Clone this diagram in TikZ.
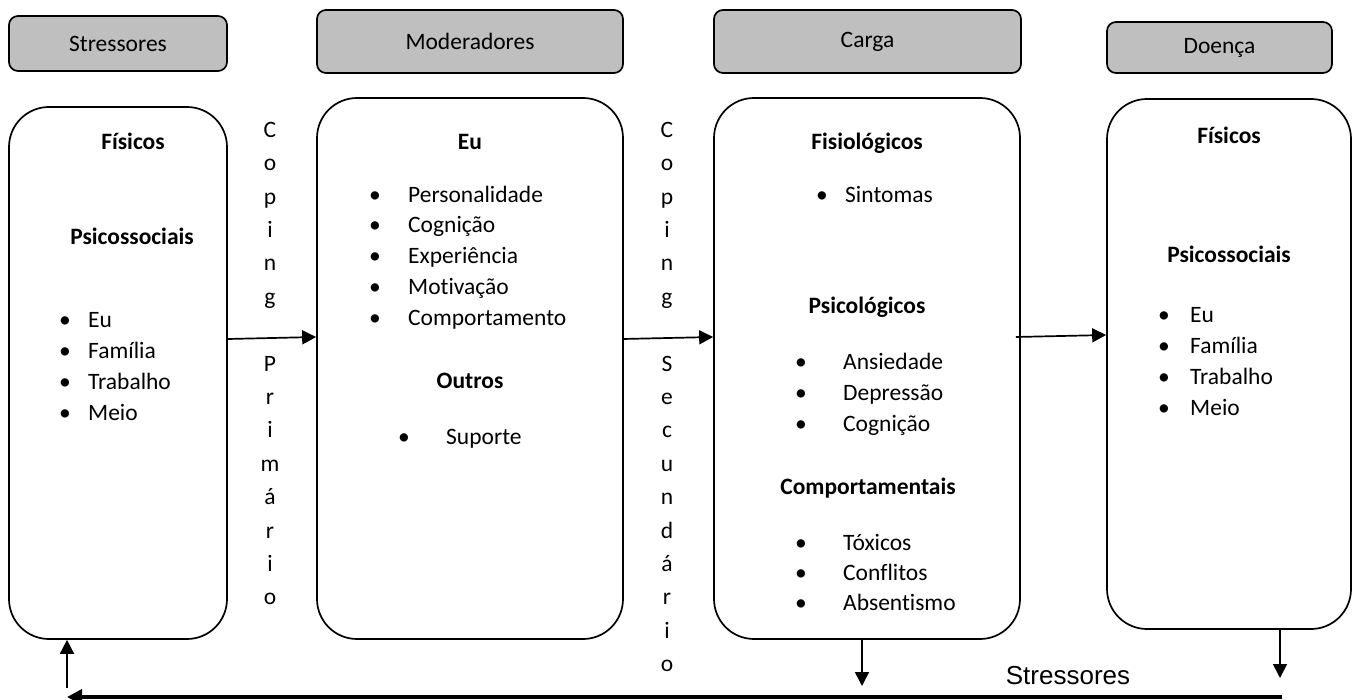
\documentclass[tikz,border=0pt]{standalone}
\usepackage{fontspec}
\setmainfont{Carlito}[Ligatures={NoCommon}]
\newfontfamily\arialfont{Liberation Sans}
\usetikzlibrary{arrows.meta}
\definecolor{hdrgray}{HTML}{BFBFBF}
\tikzset{
  hdr/.style={draw=black, fill=hdrgray, rounded corners=9pt, line width=1.7pt, inner sep=0pt, font=\fontsize{23.5}{28}\selectfont},
  mainbox/.style={draw=black, rounded corners=40pt, line width=1.7pt, inner sep=0pt},
  ttl/.style={font=\fontsize{23.5}{28}\selectfont\bfseries, anchor=mid, inner sep=0pt, yshift=-4pt},
  itm/.style={font=\fontsize{23.5}{28}\selectfont, anchor=mid west, inner sep=0pt, yshift=-4pt},
  bul/.style={font=\fontsize{23.5}{28}\selectfont, anchor=mid, inner sep=0pt, yshift=-4pt},
  ltr/.style={font=\fontsize{23.5}{28}\selectfont, anchor=mid, inner sep=0pt, yshift=-4pt},
  arr/.style={line width=1.7pt, -{Triangle[length=14pt,width=14pt]}},
  bigarr/.style={line width=3.5pt, -{Triangle[length=15pt,width=15pt]}},
}
\begin{document}
\begin{tikzpicture}[x=1pt,y=-1pt]
\useasboundingbox (0,0) rectangle (1354,700);
% headers
\node[hdr, minimum width=218pt, minimum height=55pt] (h1) at (118,43.5) {Stressores};
\node[hdr, minimum width=306pt, minimum height=63pt] (h2) at (470,41.5) {Moderadores};
\node[hdr, minimum width=307pt, minimum height=63pt] (h3) at (867.5,41.5) {Carga};
\node[hdr, minimum width=225pt, minimum height=51pt] (h4) at (1219.5,47.5) {Doença};
% main boxes
\node[mainbox, minimum width=218pt, minimum height=532pt] (b1) at (118,373) {};
\node[mainbox, minimum width=306pt, minimum height=541pt] (b2) at (470,368.5) {};
\node[mainbox, minimum width=306pt, minimum height=541pt] (b3) at (867,368.5) {};
\node[mainbox, minimum width=244pt, minimum height=530pt] (b4) at (1229,364) {};
% box 1
\node[ttl] (b1t1) at (133,143) {Físicos};
\node[ttl] (b1t2) at (132,238) {Psicossociais};
\foreach \t/\y [count=\i] in {Eu/321,Família/352,Trabalho/383,Meio/414}{
  \node[bul] (b1b\i) at (65,\y) {•};
  \node[itm] (b1i\i) at (88,\y) {\t};
}
% box 2
\node[ttl] (b2t1) at (470,143) {Eu};
\foreach \t/\y [count=\i] in {Personalidade/196,Cognição/226.5,Experiência/257,Motivação/288,Comportamento/319}{
  \node[bul] (b2b\i) at (375,\y) {•};
  \node[itm] (b2i\i) at (408,\y) {\t};
}
\node[ttl] (b2t2) at (470,382) {Outros};
\node[bul] (b2b6) at (404,438) {•};
\node[itm] (b2i6) at (446,438) {Suporte};
% box 3
\node[ttl] (b3t1) at (867,143) {Fisiológicos};
\node[bul] (b3b0) at (822,196) {•};
\node[itm] (b3i0) at (845,196) {Sintomas};
\node[ttl] (b3t2) at (867,307) {Psicológicos};
\foreach \t/\y [count=\i] in {Ansiedade/363,Depressão/394,Cognição/425}{
  \node[bul] (b3b\i) at (801,\y) {•};
  \node[itm] (b3i\i) at (843,\y) {\t};
}
\node[ttl] (b3t3) at (868,488) {Comportamentais};
\foreach \t/\y [count=\i] in {Tóxicos/544,Conflitos/574,Absentismo/604}{
  \node[bul] (b3c\i) at (801,\y) {•};
  \node[itm] (b3j\i) at (843,\y) {\t};
}
% box 4
\node[ttl] (b4t1) at (1229,137) {Físicos};
\node[ttl] (b4t2) at (1229,256) {Psicossociais};
\foreach \t/\y [count=\i] in {Eu/316,Família/347,Trabalho/378,Meio/409}{
  \node[bul] (b4b\i) at (1164,\y) {•};
  \node[itm] (b4i\i) at (1190,\y) {\t};
}
% coping columns
\foreach \l [count=\i from 0] in {C,o,p,i,n,g,\mbox{},P,r,i,m,á,r,i,o}{
  \node[ltr] (cp\i) at (270,131+33.4*\i) {\l};
}
\foreach \l [count=\i from 0] in {C,o,p,i,n,g,\mbox{},S,e,c,u,n,d,á,r,i,o}{
  \node[ltr] (cs\i) at (667,131+33.4*\i) {\l};
}
% arrows between boxes
\draw[arr] (b1.east |- 0,339) -- (b2.west |- 0,337);
\draw[arr] ([xshift=-1pt]b2.east |- 0,339) -- (b3.west |- 0,337);
\draw[arr] ([xshift=-5pt]b3.east |- 0,337) -- (b4.west |- 0,335);
% bottom feedback
\coordinate (dn3) at (862,686);
\coordinate (dn4) at (1280,678);
\coordinate (rr) at (1282,697);
\coordinate (ll) at (67,697);
\coordinate (up1) at (67,688);
\draw[arr] (b3.south -| dn3) -- (dn3);
\draw[arr] (b4.south -| dn4) -- (dn4);
\draw[bigarr] (rr) -- (ll);
\draw[arr] (up1) -- (b1.south -| up1);
\node[font=\arialfont\fontsize{26}{30}\selectfont, anchor=mid, inner sep=0pt, yshift=-5pt] (lbl) at (1068,677) {Stressores};
\end{tikzpicture}
\end{document}
